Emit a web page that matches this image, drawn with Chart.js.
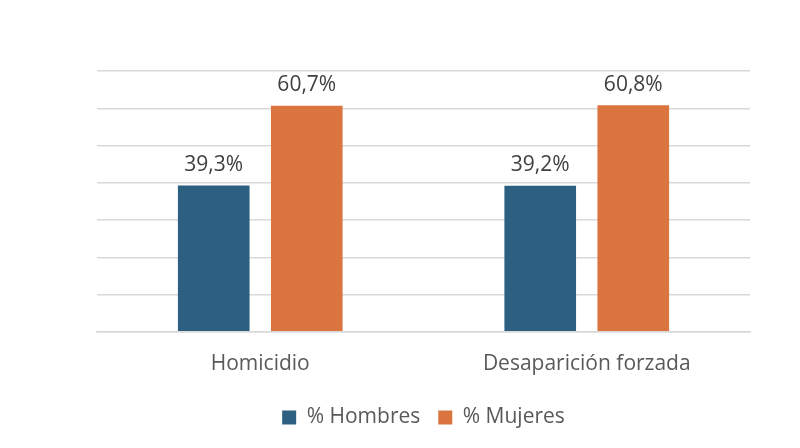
<!DOCTYPE html>
<html>
<head>
<meta charset="utf-8">
<script src="https://cdn.jsdelivr.net/npm/chart.js@4"></script>
<style>
  html, body { margin: 0; padding: 0; background: #fff; }
  #wrap { width: 800px; height: 448px; }
</style>
</head>
<body>
<div id="wrap"><canvas id="chart"></canvas></div>
<script>
const categories = ['Homicidio', 'Desaparición forzada'];
const hombres = [39.3, 39.2];
const mujeres = [60.7, 60.8];

// draws the value on top of each bar
const valueLabels = {
    id: 'valueLabels',
    afterDatasetsDraw(chart) {
        const ctx = chart.ctx;
        ctx.save();
        ctx.font = '21px "Open Sans"';
        ctx.fillStyle = '#404040';
        ctx.textAlign = 'center';
        ctx.textBaseline = 'bottom';
        chart.data.datasets.forEach(function (dataset, i) {
            chart.getDatasetMeta(i).data.forEach(function (bar, index) {
                ctx.fillText(dataset.data[index].toFixed(1).replace('.', ',') + '%', bar.x, bar.y - 10);
            });
        });
        ctx.restore();
    }
};

new Chart(document.getElementById('chart'), {
    type: 'bar',
    data: {
        labels: categories,
        datasets: [
            { label: '% Hombres', data: hombres, backgroundColor: '#2d5f80' },
            { label: '% Mujeres', data: mujeres, backgroundColor: '#da7540' }
        ]
    },
    options: {
        responsive: true,
        maintainAspectRatio: false,
        animation: false,
        categoryPercentage: 0.57,
        barPercentage: 0.77,
        layout: { padding: { left: 97, right: 50, top: 71, bottom: 10 } },
        scales: {
            x: {
                grid: { display: false },
                border: { color: '#d9d9d9', width: 1.5 },
                ticks: { color: '#595959', font: { family: 'Open Sans', size: 21 }, padding: 12 }
            },
            y: {
                min: 0, max: 70,
                ticks: { stepSize: 10, display: false },
                grid: { color: '#d9d9d9', lineWidth: 1.5, drawTicks: false },
                border: { display: false }
            }
        },
        plugins: {
            legend: {
                position: 'bottom',
                labels: {
                    color: '#595959',
                    font: { family: 'Open Sans', size: 21 },
                    boxWidth: 14, boxHeight: 14, padding: 18
                }
            },
            tooltip: { enabled: false }
        }
    },
    plugins: [valueLabels]
});
</script>
</body>
</html>
